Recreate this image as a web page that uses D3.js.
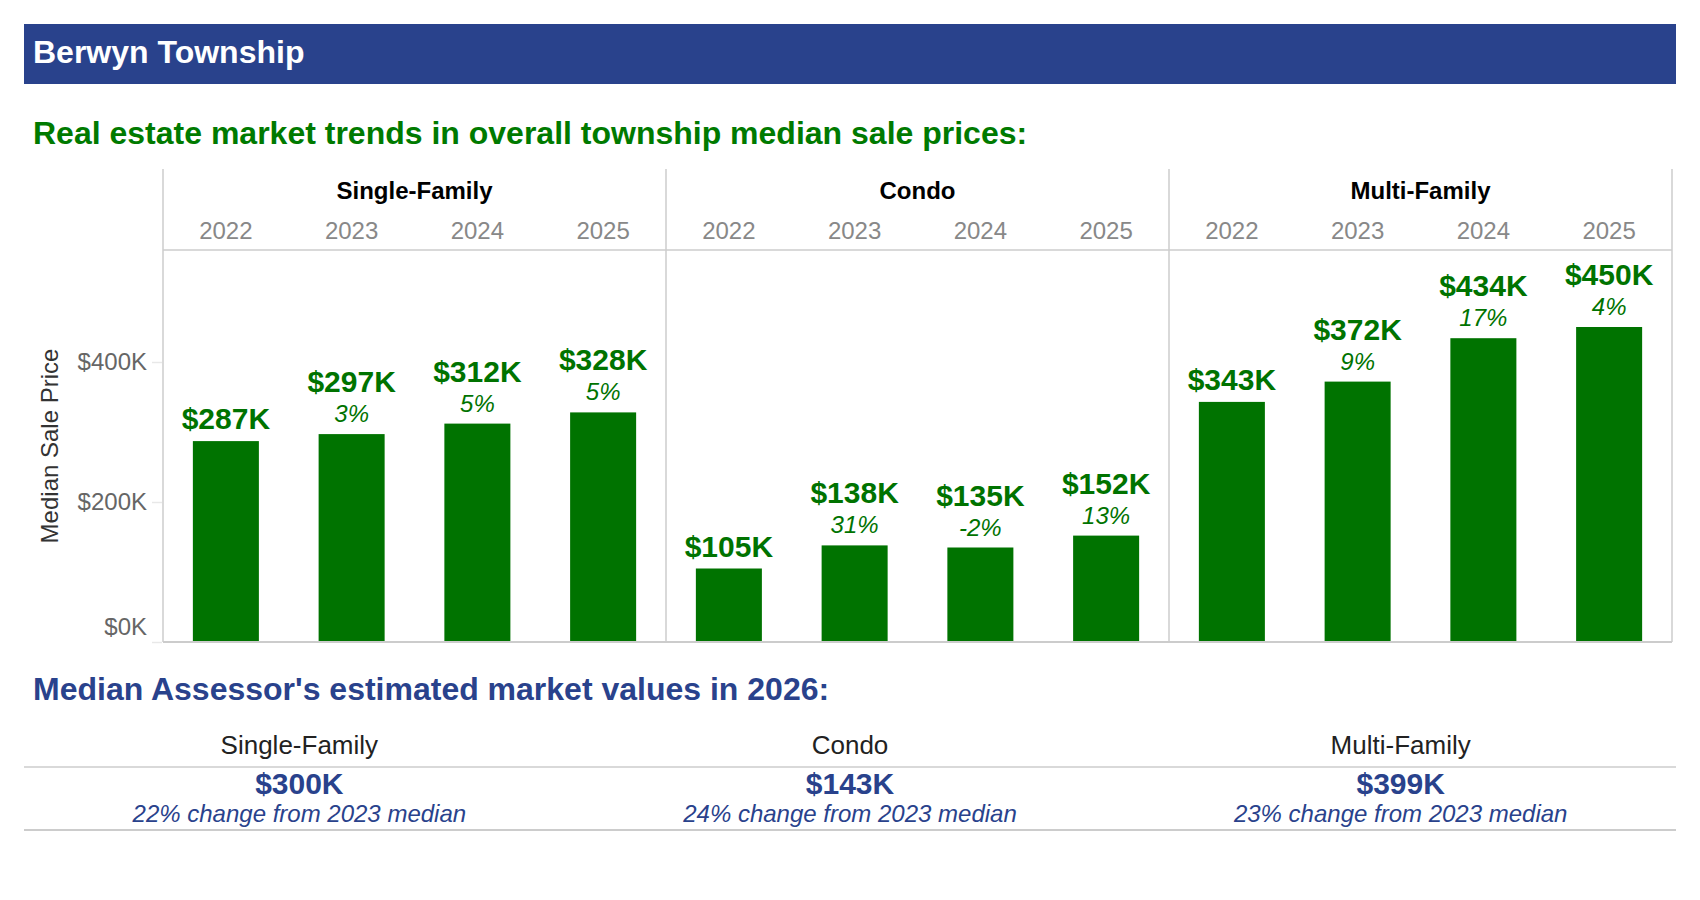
<!DOCTYPE html>
<html>
<head>
<meta charset="utf-8">
<script src="https://cdn.jsdelivr.net/npm/d3@7"></script>
<style>
  body { margin: 0; background: #fff; }
  svg { display: block; font-family: Arial, "Liberation Sans", sans-serif; }
</style>
</head>
<body>
<div id="chart"></div>
<script>
// data
var townshipName = "Berwyn Township";
var propertyTypes = ["Single-Family", "Condo", "Multi-Family"];
var years = ["2022", "2023", "2024", "2025"];
var singleFamilyPrices = [287, 297, 312, 328];   // $K
var condoPrices = [105, 138, 135, 152];
var multiFamilyPrices = [343, 372, 434, 450];
var singleFamilyChange = [null, 3, 5, 5];        // % vs previous year
var condoChange = [null, 31, -2, 13];
var multiFamilyChange = [null, 9, 17, 4];
var yTicks = [0, 200, 400];
var assessorValues = [300, 143, 399];            // $K, 2026
var assessorChange = [22, 24, 23];               // % change from 2023 median

var pricesByType = [singleFamilyPrices, condoPrices, multiFamilyPrices];
var changeByType = [singleFamilyChange, condoChange, multiFamilyChange];

var green = "#007300", navy = "#29428c", gridGray = "#cccccc";

var svg = d3.select("#chart").append("svg")
    .attr("width", 1700)
    .attr("height", 900);

// header bar
svg.append("rect").attr("x", 24).attr("y", 24).attr("width", 1652).attr("height", 60).attr("fill", navy);
svg.append("text").attr("x", 33).attr("y", 63).text(townshipName)
    .style("font-size", "32px").style("font-weight", "bold").attr("fill", "#fff");

svg.append("text").attr("x", 33).attr("y", 144)
    .text("Real estate market trends in overall township median sale prices:")
    .style("font-size", "32px").style("font-weight", "bold").attr("fill", "#007a00");

// facet layout
var plotTop = 250, plotBottom = 642, panelTop = 169;
var xFacet = d3.scaleBand().domain(propertyTypes).range([163, 1672]);
var xYear = d3.scaleBand().domain(years).range([0, xFacet.bandwidth()])
    .paddingInner(0.475).paddingOuter(0.2375);
var y = d3.scaleLinear().domain([0, 560]).range([plotBottom, plotTop]);

// y axis
var yAxis = svg.append("g")
    .attr("transform", "translate(162,0)")
    .call(d3.axisLeft(y).tickValues(yTicks).tickSize(10).tickPadding(5)
      .tickFormat(function(d) { return "$" + d + "K"; }));
yAxis.select(".domain").remove();
yAxis.selectAll("line").attr("stroke", "#e8e8e8").attr("stroke-width", 1.5);
yAxis.selectAll("text").style("font-size", "24px").style("font-family", "Arial, 'Liberation Sans', sans-serif").attr("fill", "#666");
yAxis.selectAll("text").filter(function(d) { return d === 0; }).attr("dy", "-0.3em");

svg.append("text")
    .attr("transform", "translate(52," + (plotTop + plotBottom) / 2 + ") rotate(-90)")
    .attr("text-anchor", "middle").attr("dominant-baseline", "middle")
    .text("Median Sale Price").style("font-size", "24px").attr("fill", "#333");

// panels
var panel = svg.selectAll("g.panel")
  .data(propertyTypes)
  .enter().append("g")
    .attr("class", "panel")
    .attr("transform", function(d) { return "translate(" + xFacet(d) + ",0)"; });

panel.append("text")
    .attr("x", xFacet.bandwidth() / 2).attr("y", 199)
    .attr("text-anchor", "middle")
    .text(function(d) { return d; })
    .style("font-size", "24px").style("font-weight", "bold").attr("fill", "#000");

panel.selectAll("text.year")
  .data(years)
  .enter().append("text")
    .attr("class", "year")
    .attr("x", function(d) { return xYear(d) + xYear.bandwidth() / 2; })
    .attr("y", 239)
    .attr("text-anchor", "middle")
    .text(function(d) { return d; })
    .style("font-size", "24px").attr("fill", "#888");

panel.each(function(type, i) {
  var g = d3.select(this);
  var rows = years.map(function(yr, j) {
    return {year: yr, value: pricesByType[i][j], change: changeByType[i][j]};
  });

  g.selectAll("rect.bar")
    .data(rows)
    .enter().append("rect")
      .attr("class", "bar")
      .attr("x", function(d) { return xYear(d.year); })
      .attr("y", function(d) { return y(d.value); })
      .attr("width", xYear.bandwidth())
      .attr("height", function(d) { return y(0) - y(d.value); })
      .attr("fill", green);

  g.selectAll("text.pct")
    .data(rows.filter(function(d) { return d.change !== null; }))
    .enter().append("text")
      .attr("class", "pct")
      .attr("x", function(d) { return xYear(d.year) + xYear.bandwidth() / 2; })
      .attr("y", function(d) { return y(d.value) - 12; })
      .attr("text-anchor", "middle")
      .text(function(d) { return d.change + "%"; })
      .style("font-size", "24px").style("font-style", "italic").attr("fill", green);

  g.selectAll("text.val")
    .data(rows)
    .enter().append("text")
      .attr("class", "val")
      .attr("x", function(d) { return xYear(d.year) + xYear.bandwidth() / 2; })
      .attr("y", function(d) { return y(d.value) - (d.change === null ? 12 : 42); })
      .attr("text-anchor", "middle")
      .text(function(d) { return "$" + d.value + "K"; })
      .style("font-size", "30px").style("font-weight", "bold").attr("fill", green);
});

// panel borders
var x0 = xFacet.range()[0], x1 = xFacet.range()[1];
svg.selectAll("line.sep")
  .data(propertyTypes.map(function(d) { return xFacet(d); }).concat([x1]))
  .enter().append("line")
    .attr("class", "sep")
    .attr("x1", function(d) { return d; }).attr("x2", function(d) { return d; })
    .attr("y1", panelTop).attr("y2", plotBottom)
    .attr("stroke", gridGray).attr("stroke-width", 1.5);
svg.append("line").attr("x1", x0).attr("x2", x1).attr("y1", plotTop).attr("y2", plotTop)
    .attr("stroke", gridGray).attr("stroke-width", 1.5);
svg.append("line").attr("x1", x0).attr("x2", x1).attr("y1", plotBottom).attr("y2", plotBottom)
    .attr("stroke", gridGray).attr("stroke-width", 2);

// assessor table
svg.append("text").attr("x", 33).attr("y", 700)
    .text("Median Assessor's estimated market values in 2026:")
    .style("font-size", "32px").style("font-weight", "bold").attr("fill", navy);

var xTable = d3.scaleBand().domain(propertyTypes).range([24, 1676]);
var cell = svg.selectAll("g.cell")
  .data(propertyTypes)
  .enter().append("g")
    .attr("class", "cell")
    .attr("transform", function(d) { return "translate(" + (xTable(d) + xTable.bandwidth() / 2) + ",0)"; });

cell.append("text").attr("y", 754).attr("text-anchor", "middle")
    .text(function(d) { return d; })
    .style("font-size", "26px").attr("fill", "#222");
cell.append("text").attr("y", 794).attr("text-anchor", "middle")
    .text(function(d, i) { return "$" + assessorValues[i] + "K"; })
    .style("font-size", "30px").style("font-weight", "bold").attr("fill", navy);
cell.append("text").attr("y", 822).attr("text-anchor", "middle")
    .text(function(d, i) { return assessorChange[i] + "% change from 2023 median"; })
    .style("font-size", "24px").style("font-style", "italic").attr("fill", navy);

svg.append("line").attr("x1", 24).attr("x2", 1676).attr("y1", 767).attr("y2", 767)
    .attr("stroke", gridGray).attr("stroke-width", 1.5);
svg.append("line").attr("x1", 24).attr("x2", 1676).attr("y1", 830).attr("y2", 830)
    .attr("stroke", gridGray).attr("stroke-width", 2);
</script>
</body>
</html>
